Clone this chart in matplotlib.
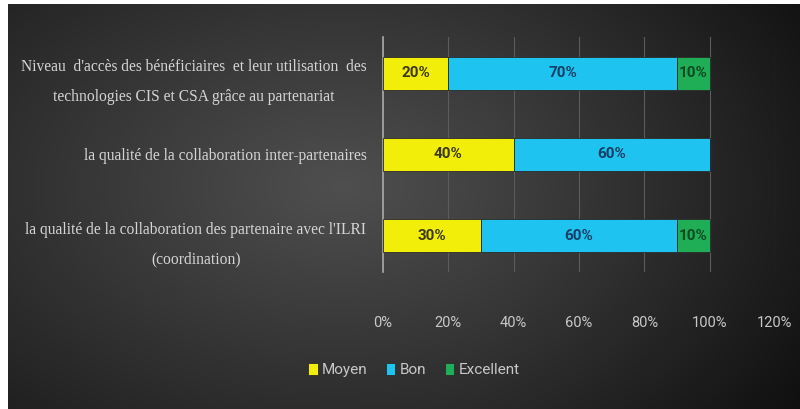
import matplotlib
matplotlib.use("Agg")
import matplotlib.pyplot as plt
import numpy as np

# data (top to bottom as in the picture)
categories = [
    "Niveau  d'accès des bénéficiaires  et leur utilisation  des\ntechnologies CIS et CSA grâce au partenariat",
    "la qualité de la collaboration inter-partenaires",
    "la qualité de la collaboration des partenaire avec l'ILRI\n(coordination)",
]
moyen = [20, 40, 30]
bon = [70, 60, 60]
excellent = [10, 0, 10]
series_names = ["Moyen", "Bon", "Excellent"]
xticks = [0, 20, 40, 60, 80, 100, 120]

colors = ["#f2ee0a", "#1ec3ef", "#1fae55"]
text_colors = ["#3b3a12", "#173f66", "#0f4a22"]

narrow = ["Roboto", "DejaVu Sans"]
serif = ["Liberation Serif", "DejaVu Serif"]

fig = plt.figure(figsize=(8, 4.09), dpi=100, facecolor="white")

# gradient background panel
bg = fig.add_axes([8 / 800, 0, 792 / 800, 405 / 409], zorder=-1)
yy, xx = np.mgrid[0:1:300j, 0:1:600j]
r = np.sqrt(((xx - 0.42) / 0.75) ** 2 + ((yy - 0.45) / 0.9) ** 2)
shade = 0.31 - 0.22 * r - 0.08 * np.clip(xx - 0.6, 0, None)
shade = np.clip(shade, 0.06, 0.4)
bg.imshow(np.dstack([shade] * 3), aspect="auto", extent=[0, 1, 0, 1])
bg.set_axis_off()

ax = fig.add_axes([383 / 800, 1 - 272 / 409, (775 - 383) / 800, (272 - 37) / 409])
ax.set_facecolor("none")

y = np.arange(len(categories))[::-1]
left = np.zeros(len(categories))
for vals, name, c, tc in zip([moyen, bon, excellent], series_names, colors, text_colors):
    vals = np.array(vals, dtype=float)
    bars = ax.barh(y, vals, left=left, height=0.4, color=c, label=name,
                   edgecolor="#2a2a2a", linewidth=0.6, zorder=3)
    labels = [f"{int(v)}%" if v > 0 else "" for v in vals]
    ax.bar_label(bars, labels=labels, label_type="center", color=tc,
                 fontsize=11, fontweight="bold", family=narrow)
    left += vals

ax.set_xlim(0, 120)
ax.set_ylim(-0.45, 2.45)
ax.set_xticks(xticks)
ax.set_xticklabels([f"{t}%" for t in xticks], family=narrow, fontsize=10.5, color="#c8c8c8")
ax.set_yticks(y)
ax.set_yticklabels(categories, family=serif, fontsize=11.2, color="#d4d4d4",
                   multialignment="center", linespacing=2.15)
ax.tick_params(axis="x", length=0, pad=32)
ax.tick_params(axis="y", length=0, pad=12)
ax.grid(axis="x", color="#5c5c5c", linewidth=0.8, zorder=0)
for s in ["top", "right", "bottom"]:
    ax.spines[s].set_visible(False)
ax.spines["left"].set_color("#a8a8a8")
ax.spines["left"].set_linewidth(1.2)

leg = fig.legend(loc="center", bbox_to_anchor=(414 / 800, 1 - 370 / 409), ncol=3,
                 frameon=False, handlelength=0.6, handleheight=0.9, handletextpad=0.3,
                 columnspacing=1.2, prop={"family": narrow, "size": 11})
for t in leg.get_texts():
    t.set_color("#c8c8c8")

fig.savefig("out.png", dpi=100, facecolor="white")
